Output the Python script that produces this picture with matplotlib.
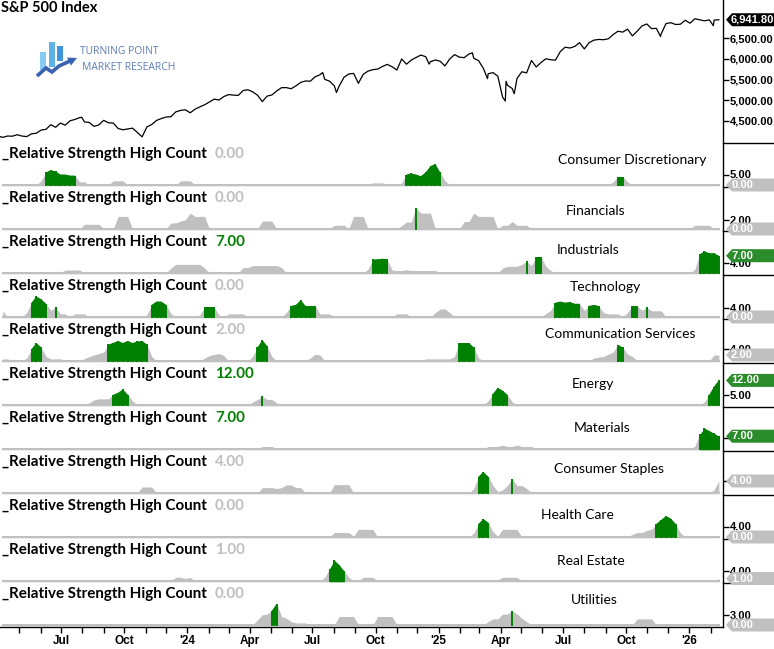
import numpy as np
import pandas as pd
import matplotlib
matplotlib.use("Agg")
import matplotlib.pyplot as plt
import matplotlib.dates as mdates
from matplotlib.lines import Line2D
from matplotlib.patches import Rectangle, Polygon
from matplotlib.ticker import FuncFormatter
from matplotlib.transforms import IdentityTransform

# ---------------- data ----------------
# weekly (Friday) closes of the S&P 500, first week 2023-04-07
week_start = "2023-04-07"
n_weeks = 150

sp_close = [
    # 2023
    4105, 4137, 4133, 4169, 4136, 4124, 4191, 4205, 4282, 4299, 4410, 4348, 4450,
    4399, 4505, 4536, 4582, 4478, 4464, 4370, 4406, 4515, 4457, 4450, 4320, 4288,
    4308, 4327, 4224, 4117, 4358, 4415, 4514, 4559, 4595, 4604, 4719, 4755, 4770,
    # 2024
    4697, 4784, 4840, 4891, 4959, 5027, 5006, 5089, 5137, 5124, 5117, 5234, 5254,
    5204, 5123, 4967, 5100, 5128, 5223, 5303, 5305, 5278, 5347, 5431, 5465, 5460,
    5567, 5615, 5505, 5459, 5346, 5344, 5554, 5634, 5648, 5408, 5626, 5703, 5738,
    5751, 5815, 5865, 5808, 5729, 5995, 5870, 5969, 6032, 6090, 6051, 5931, 5971,
    # 2025
    5942, 5827, 5997, 6101, 6041, 6026, 6115, 6013, 5955, 5770, 5639, 5667, 5581,
    5074, 5363, 5283, 5525, 5687, 5660, 5958, 5802, 5912, 6000, 5977, 5967, 6173,
    6279, 6260, 6297, 6389, 6238, 6389, 6450, 6467, 6460, 6482, 6584, 6664, 6644,
    6716, 6553, 6664, 6792, 6840, 6728, 6734, 6603, 6849, 6870, 6827, 6834, 6930,
    # 2026
    6858, 6966, 6940, 6915, 6939, 6932, 6941.80,
]
# a few mid-week closes (lows / highs between the Fridays)
sp_extra_dates = ["2023-04-03", "2023-07-31", "2024-07-16", "2024-08-05", "2024-12-18",
                  "2025-02-19", "2025-03-13", "2025-04-08", "2025-04-09", "2025-04-21",
                  "2025-11-20", "2026-02-05"]
sp_extra_vals = [4124, 4589, 5667, 5186, 5872, 6144, 5521, 4982, 5457, 5158, 6538, 6798]

# relative strength high counts per sector:
# (first week number, weekly values, flags) ; flag g = highlighted green
cons_disc = [
    (8, [2, 6, 7, 6.5, 5, 5, 4.5, 4.5, 1.5, 1.5], ".ggggggg.."),
    (23, [2, 2, 2], "..."),
    (37, [2, 2, 2], "..."),
    (77, [1, 1, 1], "..."),
    (83, [1, 5, 5.5, 5, 4.2, 6, 9, 10, 6, 2], ".gggggggg."),
    (127, [1.5, 4, 4, 1.5], ".gg."),
]
financials = [
    (17, [1, 1, 1, 1], "...."),
    (24, [2.7, 2.7, 2.7], "..."),
    (35, [1.3, 1.3, 1.7, 2, 3.4, 2.7, 2.7, 2.7], "........"),
    (54, [1.7, 1.7, 1.7], "..."),
    (69, [0.8, 0.8, 0.8], "..."),
    (73, [2.7, 2.7, 2.7], "..."),
    (83, [0.7, 1.5, 1.5, 4.5, 3.4, 3.4, 3.4], "...g..."),
    (96, [1.6, 1.6, 3.4, 2.7, 2.7, 2.7, 2.7], "......."),
    (104, [0.8, 0.8, 1.6, 0.8, 0.8, 0.8], "......"),
    (144, [0.8, 0.8, 0.8, 0.8], "...."),
]
industrials = [
    (13, [1.2, 1.2, 1.2, 1.2], "...."),
    (35, [2, 3.5, 3.5, 3.5, 3.5, 3.5, 3.5, 2], "........"),
    (50, [2.2, 2.2, 3, 3, 3, 3, 3, 3, 2.2], "........."),
    (76, [1.5, 5.5, 5.5, 5.8, 5.5, 1.2, 1, 1, 1.3, 1, 1, 1, 1, 1, 1], ".gggg.........."),
    (104, [2, 2.7, 2.7, 2.7, 3.5, 4.7, 3, 6.5, 6.5, 2.7, 1], ".....g.gg.."),
    (144, [1.5, 7.5, 8.8, 8, 8, 7], ".ggggg"),
]
technology = [
    (0, [2.8], "."),
    (5, [2, 6.5, 9.3, 8, 6, 3, 4.3, 1.4, 1.4], ".gggg.g.."),
    (15, [1.4, 1.4, 1.4], "..."),
    (30, [1, 5.5, 7, 7, 5.5, 1.5], ".gggg."),
    (41, [1, 4.3, 4.3, 4.3, 1], ".ggg."),
    (47, [1.4, 1.4, 1.4, 1.4], "...."),
    (59, [2, 5, 5.5, 7.6, 5, 5, 5, 1.4, 1.4, 1.4], ".gggggg..."),
    (82, [1.4, 1.4, 1.4], "..."),
    (90, [2, 3.6, 3.6, 2], "...."),
    (113, [1.5, 3, 6.5, 7, 6.5, 6.8, 6, 6, 3, 5, 5.5, 5, 2, 1.4, 1.4, 1.4], "..gggggg.ggg...."),
    (130, [2, 5, 5, 3, 4.3, 2.8, 2.8, 2.8], ".gg.g..."),
]
comm_services = [
    (0, [0.7, 0.7], ".."),
    (5, [1, 4, 6, 4.5, 1.5, 0.7, 0.7, 0.7], ".ggg...."),
    (17, [0.8, 1.5, 2, 2.5, 3, 5.5, 6, 6.7, 6, 6.7, 6, 6.5, 6.7, 5.5, 1.5], ".....ggggggggg."),
    (42, [1, 1.8, 2.2, 2.5, 1.8], "....."),
    (52, [1.5, 4.5, 7, 5, 1.5], ".ggg."),
    (64, [1, 2.3, 2], "..."),
    (88, [0.7, 0.7, 0.7, 0.7, 0.7, 0.7, 1.5, 6, 6, 6, 4.5, 1], ".......gggg."),
    (123, [1, 1.3, 1.5, 2.3, 3, 5.4, 4.5, 2.3, 1.5], ".....gg.."),
    (148, [2, 2], ".."),
]
energy = [
    (18, [1, 2.5, 3, 3, 3, 5, 6, 7.6, 5, 2], ".....gggg."),
    (52, [1.5, 2.7, 4.2, 2.7, 2.7, 1], "..g..."),
    (101, [2, 5.5, 8.4, 7, 5, 1.5], ".gggg."),
    (146, [1.5, 5, 9, 12], ".ggg"),
]
materials = [
    (54, [1.4, 1.4, 1.4], "..."),
    (101, [1.4, 1.4, 1.4, 2.1, 1.4, 1.4, 2.1, 1.4, 1.4, 1.4], ".........."),
    (144, [1.5, 8, 11.4, 10, 8.5, 7], ".ggggg"),
]
cons_staples = [
    (3, [0.5, 0.5, 0.5], "..."),
    (29, [2, 2, 2], "..."),
    (54, [1.8, 1.8, 1.8, 1.5, 1.8, 2.7, 2.7, 1.8, 1.8], "........."),
    (69, [2.8, 2.8, 2.8, 2.8], "...."),
    (98, [1.5, 5.5, 7, 5.5, 2.5, 0.5, 1, 2.5, 4.7, 2.5, 2.5, 1.5], ".ggg....g..."),
    (148, [1, 4], ".."),
]
health_care = [
    (69, [1.7, 1.7, 1.7, 1.7, 0.3, 2.9, 2.9, 2.9, 2.9], "........."),
    (98, [1.5, 5, 6.9, 5.5, 2, 0.3, 2.9, 2.9, 2.9, 2.9], ".ggg......"),
    (131, [1, 1.7, 1.7, 2.5, 3, 5, 6.5, 8, 7, 5, 1.5], ".....ggggg."),
]
real_estate = [
    (36, [1.5, 1.5, 1, 1.5], "...."),
    (67, [1.5, 5, 8.3, 6.5, 4, 1.5], ".gggg."),
    (75, [1.5, 1.5, 1.5], "..."),
    (100, [0.4, 0.4, 0.4, 0.4, 1.5, 1.5, 1.5, 1.5], "........"),
    (149, [1], "."),
]
utilities = [
    (53, [1.5, 3, 3.2, 4.2, 6.2, 2.5, 2, 1, 0.6, 0.6, 0.6], "...gg......"),
    (70, [2.5, 2.5, 2.5, 2.5], "...."),
    (78, [2.5, 2.5, 2.5, 2.5], "...."),
    (101, [1, 1.8, 1.8, 3.2, 3.2, 4.2, 3.2, 2, 1], ".....g..."),
    (132, [1.8, 1.8, 1.8, 1.8], "...."),
]

sector_names = ["Consumer Discretionary", "Financials", "Industrials", "Technology",
                "Communication Services", "Energy", "Materials", "Consumer Staples",
                "Health Care", "Real Estate", "Utilities"]
sector_data = [cons_disc, financials, industrials, technology, comm_services, energy,
               materials, cons_staples, health_care, real_estate, utilities]

# ---------------- layout / style ----------------
W, H = 774, 649
PLOT_R = 723
TOP_H = 143
PANEL_H = 44
ymax_list = [20, 9, 17, 19, 14, 20.5, 23, 14, 16, 17, 12.3]
ytick_list = [5, 2, 4, 4, 4, 5, 6, 4, 4, 4, 3]
# sector label centre x (px) and offset from panel top (px)
name_pos = [(632, 17), (596, 24), (588, 19), (605, 12), (620, 15), (593, 21),
            (602, 21), (609, 18), (577, 20), (591, 22), (594, 17)]

GREY = "#c0c0c0"
GREEN = "#008000"
BOX_GREEN = "#2b8c2b"
TITLE_FONT = ["Lato", "DejaVu Sans"]
TICK_FONT = ["Liberation Sans", "DejaVu Sans"]

weeks = pd.date_range(week_start, periods=n_weeks, freq="7D")
sp = pd.concat([pd.Series(sp_close, index=weeks),
                pd.Series(sp_extra_vals, index=pd.to_datetime(sp_extra_dates))]).sort_index()
x_lo, x_hi = pd.Timestamp("2023-04-03"), pd.Timestamp("2026-02-19")


def build(segments):
    vals = np.zeros(n_weeks)
    green = np.zeros(n_weeks, dtype=bool)
    for first, v, flags in segments:
        for j, (val, f) in enumerate(zip(v, flags)):
            vals[first + j] = val
            green[first + j] = f == "g"
    return vals, green


def rect(x0, y0, x1, y1):
    return [x0 / W, 1 - y1 / H, (x1 - x0) / W, (y1 - y0) / H]


def style_right(ax):
    for s in ["left", "top", "bottom"]:
        ax.spines[s].set_visible(False)
    ax.spines["right"].set_linewidth(1.0)
    ax.yaxis.tick_right()
    ax.tick_params(axis="y", direction="out", length=4, width=1, pad=1, labelsize=8)
    ax.set_xlim(x_lo, x_hi)
    ax.set_xticks([])


def value_tag(ax, value, label, color):
    # tag-shaped last value marker right of the axis, in pixels
    yc = ax.transData.transform((0, value))[1]
    x0, h = PLOT_R + 3, 13
    pts = [[x0, yc], [x0 + 6, yc + h / 2], [W + 2, yc + h / 2], [W + 2, yc - h / 2],
           [x0 + 6, yc - h / 2]]
    fig.add_artist(Polygon(pts, closed=True, fc=color, ec="none",
                           transform=IdentityTransform(), zorder=5))
    fig.text(x0 + 5, yc, label, transform=IdentityTransform(), fontsize=8,
             fontweight="bold", color="white", family=TICK_FONT, va="center",
             ha="left", zorder=6)


fig = plt.figure(figsize=(W / 100, H / 100), dpi=100)

# ---------------- S&P panel ----------------
ax0 = fig.add_axes(rect(0, 0, PLOT_R, TOP_H))
style_right(ax0)
ax0.plot(sp.index, sp.values, color="black", lw=0.9)
ax0.set_ylim(3969, 7418)
yt = [4500, 5000, 5500, 6000, 6500]
ax0.set_yticks(yt)
ax0.set_yticklabels([f"{v:,.2f}" for v in yt], fontweight="bold", family=TICK_FONT)
value_tag(ax0, sp_close[-1], f"{sp_close[-1]:,.2f}", "black")
fig.text(1 / W, 1 - 8 / H, "S&P 500 Index", fontsize=10.5, fontweight="bold",
         family=TITLE_FONT, va="center", ha="left")

# logo
lax = fig.add_axes(rect(34, 38, 80, 80))
lax.set_xlim(34, 80)
lax.set_ylim(80, 38)
lax.axis("off")
for bx, top, bot, c in [(40, 52, 70, "#86cbf0"), (48.5, 42, 67, "#5fb2e8"), (57, 46, 61, "#3f95dc")]:
    lax.add_patch(Rectangle((bx, top), 6, bot - top, color=c, lw=0))
lax.plot([37, 46, 52, 59, 70], [76, 68, 72, 66, 61], color="#3a62b0", lw=2.6,
         solid_capstyle="butt", solid_joinstyle="miter")
lax.add_patch(Polygon([[67, 57.5], [77, 58], [71, 65.5]], closed=True, color="#3a62b0", lw=0))
fig.text(80 / W, 1 - 52 / H, "TURNING POINT", fontsize=7.5, color="#5d7db5",
         family=["Open Sans", "DejaVu Sans"], va="center", ha="left")
fig.text(82 / W, 1 - 67 / H, "MARKET RESEARCH", fontsize=7.5, color="#5d7db5",
         family=["Open Sans", "DejaVu Sans"], va="center", ha="left")

# ---------------- sector panels ----------------
axes = []
for k, (name, segs) in enumerate(zip(sector_names, sector_data)):
    top = TOP_H + PANEL_H * k
    ax = fig.add_axes(rect(0, top, PLOT_R, top + PANEL_H))
    style_right(ax)
    axes.append(ax)
    vals, green = build(segs)
    ymax = ymax_list[k]
    ax.set_ylim(-ymax * 2 / 42, ymax)
    low = -ymax / 56  # half the baseline width, so fills cover it

    ax.plot(weeks, np.zeros(n_weeks), color=GREY, lw=1.5, zorder=1)
    ax.fill_between(weeks, low, vals, color=GREY, lw=0, zorder=2)
    ax.fill_between(weeks, low, vals, where=green, color=GREEN, lw=0, zorder=3)
    ax.vlines(weeks[green], low, vals[green], color=GREEN, lw=1.4, zorder=3)

    ax.set_yticks([ytick_list[k]])
    ax.set_yticklabels([f"{ytick_list[k]:.2f}"], fontweight="bold", family=TICK_FONT)

    last = vals[-1]
    last_green = green[-1]
    ax.text(2 / PLOT_R, 1 - 11 / PANEL_H, "_Relative Strength High Count",
            transform=ax.transAxes, fontsize=10.9, fontweight="bold",
            family=TITLE_FONT, va="center", ha="left")
    ax.text(215 / PLOT_R, 1 - 11 / PANEL_H, f"{last:.2f}", transform=ax.transAxes,
            fontsize=10.9, fontweight="bold", family=TITLE_FONT, va="center", ha="left",
            color=GREEN if last_green else "#bfbfbf")
    nx, ny = name_pos[k]
    ax.text(nx / PLOT_R, 1 - ny / PANEL_H, name, transform=ax.transAxes, fontsize=10,
            family=TITLE_FONT, va="center", ha="center")

    value_tag(ax, last, f"{last:.2f}", BOX_GREEN if last_green else GREY)

# bottom date axis
axb = axes[-1]
axb.spines["bottom"].set_visible(True)
axb.spines["bottom"].set_linewidth(1.0)
axb.xaxis.set_major_locator(mdates.MonthLocator(bymonth=[1, 4, 7, 10]))
axb.xaxis.set_minor_locator(mdates.MonthLocator())


def qfmt(x, pos):
    d = mdates.num2date(x)
    return "'" + d.strftime("%y") if d.month == 1 else d.strftime("%b")


axb.xaxis.set_major_formatter(FuncFormatter(qfmt))
axb.tick_params(axis="x", which="both", direction="out", length=4, width=1, pad=2)
for lbl in axb.get_xticklabels():
    lbl.set_fontweight("bold")
    lbl.set_fontsize(8.5)
    lbl.set_family(TICK_FONT)

# separators right of the value axis
for k in range(len(sector_names)):
    y = 1 - (TOP_H + PANEL_H * k) / H
    fig.add_artist(Line2D([PLOT_R / W, 1], [y, y], transform=fig.transFigure,
                          color="black", lw=1))

fig.savefig("out.png", dpi=100)
